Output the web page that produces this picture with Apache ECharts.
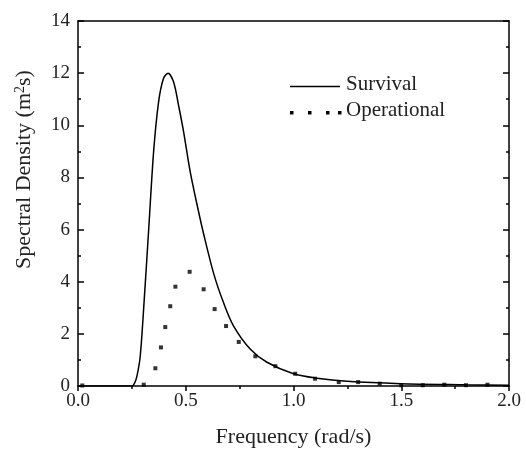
<!DOCTYPE html>
<html><head><meta charset="utf-8">
<script src="https://cdn.jsdelivr.net/npm/echarts@6/dist/echarts.min.js"></script>
<style>html,body{margin:0;padding:0;background:#fff}#c{width:526px;height:453px}</style>
</head><body><div id="c"></div>
<script>
const survivalX = [0.0,0.03,0.09,0.15,0.2,0.25,0.262,0.274,0.289,0.308,0.328,0.351,0.374,0.397,0.418,0.444,0.467,0.49,0.521,0.552,0.583,0.63,0.676,0.722,0.8,0.877,1.0,1.109,1.248,1.496,1.805,2.0];
const survivalY = [0.0,0.0,0.0,0.0,0.0,0.0,0.1,0.4,1.16,3.4,6.0,9.0,10.9,11.8,12.0,11.65,10.75,9.75,8.2,6.97,5.83,4.3,3.18,2.3,1.41,0.91,0.47,0.30,0.18,0.09,0.05,0.03];
const operX = [0.02,0.305,0.359,0.385,0.405,0.428,0.452,0.518,0.583,0.634,0.687,0.746,0.823,0.916,1.008,1.10,1.21,1.30,1.40,1.50,1.60,1.70,1.80,1.90];
const operY = [0.02,0.05,0.68,1.48,2.26,3.06,3.81,4.38,3.71,2.95,2.30,1.69,1.14,0.76,0.47,0.28,0.15,0.15,0.09,0.03,0.03,0.05,0.03,0.05];
const xTicks = ['0.0','0.5','1.0','1.5','2.0'];
const yTicks = ['0','2','4','6','8','10','12','14'];

const F = 'Liberation Serif';
const chart = echarts.init(document.getElementById('c'));
chart.setOption({
  animation:false,
  grid:{left:78,right:17,top:21,bottom:62},
  xAxis:[{
    type:'value',min:0,max:2,interval:0.5,
    axisLine:{onZero:false,lineStyle:{color:'#000',width:1.5}},
    axisTick:{show:true,inside:false,length:5,lineStyle:{color:'#000',width:1.5}},
    minorTick:{show:true,splitNumber:2,length:3,lineStyle:{color:'#000',width:1.5}},
    splitLine:{show:false},
    axisLabel:{color:'#222',fontFamily:F,fontSize:19,margin:6,formatter:v=>xTicks[Math.round(v/0.5)]},
    name:'Frequency (rad/s)',nameLocation:'middle',nameGap:40,
    nameTextStyle:{color:'#222',fontFamily:F,fontSize:22}
  },{
    type:'value',position:'top',min:0,max:2,
    axisLine:{show:true,onZero:false,lineStyle:{color:'#000',width:1.5}},
    axisTick:{show:false},axisLabel:{show:false},splitLine:{show:false}
  }],
  yAxis:[{
    type:'value',min:0,max:14,interval:2,
    axisLine:{onZero:false,lineStyle:{color:'#000',width:1.5}},
    axisTick:{show:true,inside:true,length:6,lineStyle:{color:'#000',width:1.5}},
    minorTick:{show:true,splitNumber:2,length:3,lineStyle:{color:'#000',width:1.5}},
    splitLine:{show:false},
    axisLabel:{color:'#222',fontFamily:F,fontSize:19,margin:8,formatter:v=>yTicks[Math.round(v/2)]},
    name:'Spectral Density (m{sup|2}s)',nameLocation:'middle',nameGap:42,
    nameTextStyle:{color:'#222',fontFamily:F,fontSize:22,padding:[0,0,0,68],
      rich:{sup:{fontFamily:F,fontSize:14,verticalAlign:'top',padding:[0,0,9,0],color:'#222'}}}
  },{
    type:'value',position:'right',min:0,max:14,interval:2,
    axisLine:{show:true,onZero:false,lineStyle:{color:'#000',width:1.5}},
    axisTick:{show:true,inside:true,length:6,lineStyle:{color:'#000',width:1.5}},
    minorTick:{show:true,splitNumber:2,length:3,lineStyle:{color:'#000',width:1.5}},
    axisLabel:{show:false},splitLine:{show:false}
  }],
  series:[{
    name:'Survival',type:'line',smooth:0.3,symbol:'none',
    lineStyle:{color:'#000',width:1.5},
    data:survivalX.map((x,i)=>[x,survivalY[i]])
  },{
    name:'Operational',type:'scatter',symbol:'rect',symbolSize:4,
    itemStyle:{color:'#000'},
    data:operX.map((x,i)=>[x,operY[i]])
  }],
  graphic:[
    {type:'line',shape:{x1:290,y1:86.5,x2:340,y2:86.5},style:{stroke:'#000',lineWidth:1.5}},
    {type:'text',left:346,top:74,style:{text:'Survival',fontFamily:F,fontSize:21,fill:'#222'}},
    {type:'rect',shape:{x:290,y:111,width:3.5,height:3.5},style:{fill:'#000'}},
    {type:'rect',shape:{x:308,y:111,width:3.5,height:3.5},style:{fill:'#000'}},
    {type:'rect',shape:{x:326,y:111,width:3.5,height:3.5},style:{fill:'#000'}},
    {type:'rect',shape:{x:338,y:111,width:3.5,height:3.5},style:{fill:'#000'}},
    {type:'text',left:346,top:100,style:{text:'Operational',fontFamily:F,fontSize:21,fill:'#222'}}
  ]
});
</script></body></html>
